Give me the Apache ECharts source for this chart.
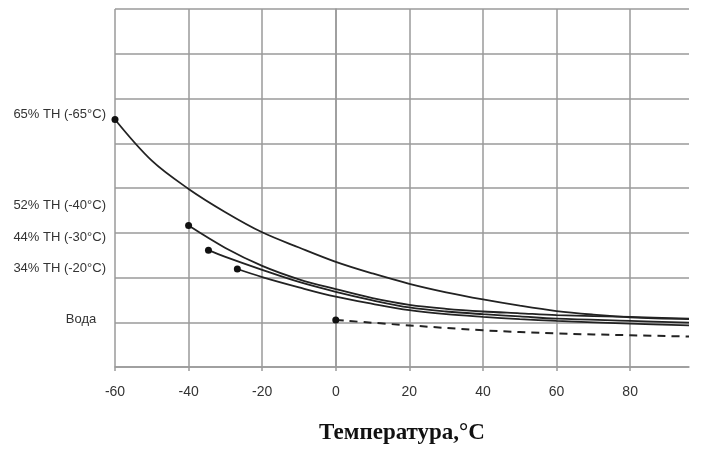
<!DOCTYPE html>
<html>
<head>
<meta charset="utf-8">
<script src="https://cdn.jsdelivr.net/npm/echarts@6/dist/echarts.min.js"></script>
<style>
  html, body { margin: 0; padding: 0; background: #fff; }
  #main { width: 710px; height: 452px; }
</style>
</head>
<body>
<div id="main"></div>
<script>
// x — температура, y — условные единицы (8 делений сетки)
const th65 = [[-60, 5.53], [-50, 4.61], [-40, 3.98], [-30, 3.46], [-20, 3.01], [-10, 2.67], [0, 2.35],
              [10, 2.09], [20, 1.86], [30, 1.67], [40, 1.51], [50, 1.37], [60, 1.25], [70, 1.17], [80, 1.11], [96, 1.07]];
const th52 = [[-40, 3.16], [-30, 2.66], [-20, 2.26], [-10, 1.96], [0, 1.74], [10, 1.54], [20, 1.39], [30, 1.30],
              [40, 1.24], [50, 1.20], [60, 1.16], [80, 1.12], [96, 1.08]];
const th44 = [[-34.6, 2.61], [-30, 2.46], [-20, 2.17], [-10, 1.90], [0, 1.68], [10, 1.49], [20, 1.33], [30, 1.24],
              [40, 1.18], [50, 1.13], [60, 1.08], [80, 1.03], [96, 0.99]];
const th34 = [[-26.75, 2.19], [-20, 2.01], [-10, 1.78], [0, 1.57], [10, 1.41], [20, 1.27], [30, 1.18],
              [40, 1.12], [50, 1.07], [60, 1.03], [80, 0.97], [96, 0.93]];
const voda = [[0, 1.05], [20, 0.93], [40, 0.82], [60, 0.75], [80, 0.71], [96, 0.68]];

const seriesNames = ['65% TH (-65°C)', '52% TH (-40°C)', '44% TH (-30°C)', '34% TH (-20°C)', 'Вода'];
const xTicks = [-60, -40, -20, 0, 20, 40, 60, 80];

const gridColor = '#9a9a9a';
const lineColor = '#222';
const labelFont = '13px "Liberation Sans"';

// точка только в начале кривой
function withStartDot(arr) {
    return arr.map(function (p, i) {
        return i === 0 ? { value: p, symbol: 'circle', symbolSize: 7 } : { value: p, symbol: 'none' };
    });
}

function curve(name, arr, dashed) {
    return {
        name: name,
        type: 'line',
        data: withStartDot(arr),
        smooth: 0.35,
        symbol: 'none',
        showSymbol: true,
        lineStyle: {
            color: lineColor,
            width: dashed ? 2 : 1.8,
            type: dashed ? [8, 6] : 'solid'
        },
        itemStyle: { color: '#111' },
        z: 5
    };
}

let option = {
    animation: false,
    backgroundColor: '#fff',
    grid: { left: 115, right: 21, top: 9, bottom: 85 },
    xAxis: {
        type: 'value',
        min: -60,
        max: 96,
        interval: 20,
        name: 'Температура,°C',
        nameLocation: 'middle',
        nameGap: 55,
        nameTextStyle: {
            fontFamily: 'Liberation Serif',
            fontWeight: 'bold',
            fontSize: 23,
            color: '#111'
        },
        axisLine: { lineStyle: { color: gridColor, width: 1.5 } },
        axisTick: { show: true, length: 4, lineStyle: { color: gridColor, width: 1.5 } },
        axisLabel: {
            showMaxLabel: false,
            margin: 18,
            fontFamily: 'Liberation Sans',
            fontSize: 14,
            color: '#333',
            formatter: function (v) { return xTicks.indexOf(v) >= 0 ? String(v) : ''; }
        },
        splitLine: {
            show: true,
            showMaxLine: false,
            lineStyle: { color: gridColor, width: 1.5 }
        }
    },
    yAxis: {
        type: 'value',
        min: 0,
        max: 8,
        interval: 1,
        axisLine: { show: true, lineStyle: { color: gridColor, width: 1.5 } },
        axisTick: { show: false },
        axisLabel: { show: false },
        splitLine: { show: true, lineStyle: { color: gridColor, width: 1.5 } }
    },
    graphic: [
        { type: 'text', x: 106, y: 114, style: { text: seriesNames[0], align: 'right', verticalAlign: 'middle', font: labelFont, fill: '#333' } },
        { type: 'text', x: 106, y: 205, style: { text: seriesNames[1], align: 'right', verticalAlign: 'middle', font: labelFont, fill: '#333' } },
        { type: 'text', x: 106, y: 237, style: { text: seriesNames[2], align: 'right', verticalAlign: 'middle', font: labelFont, fill: '#333' } },
        { type: 'text', x: 106, y: 268, style: { text: seriesNames[3], align: 'right', verticalAlign: 'middle', font: labelFont, fill: '#333' } },
        { type: 'text', x: 81, y: 319, style: { text: seriesNames[4], align: 'center', verticalAlign: 'middle', font: labelFont, fill: '#333' } }
    ],
    series: [
        curve(seriesNames[0], th65, false),
        curve(seriesNames[1], th52, false),
        curve(seriesNames[2], th44, false),
        curve(seriesNames[3], th34, false),
        curve(seriesNames[4], voda, true)
    ]
};

const chart = echarts.init(document.getElementById('main'));
chart.setOption(option);
</script>
</body>
</html>
